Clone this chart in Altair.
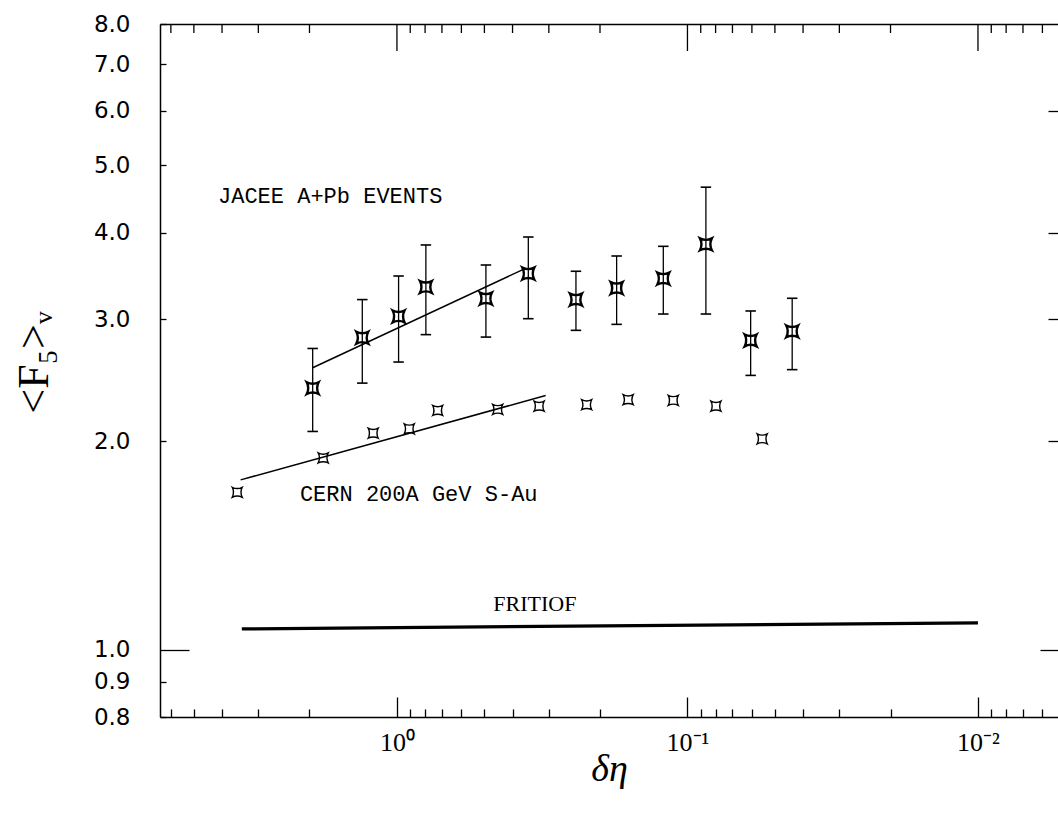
import altair as alt
import pandas as pd

# ---------------- data ----------------
jacee_x = [1.95, 1.316, 0.987, 0.795, 0.494, 0.353, 0.242, 0.1753, 0.1211, 0.0864, 0.0606, 0.0436]
jacee_y = [2.386, 2.821, 3.028, 3.339, 3.213, 3.491, 3.202, 3.327, 3.434, 3.848, 2.796, 2.881]
jacee_lo = [2.066, 2.426, 2.602, 2.850, 2.827, 3.005, 2.891, 2.949, 3.052, 3.052, 2.489, 2.537]
jacee_hi = [2.722, 3.202, 3.463, 3.839, 3.592, 3.942, 3.518, 3.701, 3.822, 4.652, 3.083, 3.216]

cern_x = [3.546, 1.794, 1.207, 0.907, 0.724, 0.450, 0.324, 0.2223, 0.160, 0.1119, 0.0798, 0.0553]
cern_y = [1.688, 1.892, 2.054, 2.084, 2.215, 2.223, 2.247, 2.258, 2.296, 2.291, 2.247, 2.016]

jacee_fit_x = [1.95, 0.3625]
jacee_fit_y = [2.553, 3.549]
cern_fit_x = [3.452, 0.3077]
cern_fit_y = [1.759, 2.328]
fritiof_x = [3.42, 0.0100]
fritiof_y = [1.072, 1.094]

mono_labels = ["JACEE A+Pb EVENTS", "CERN 200A GeV S-Au"]
mono_label_x = [4.13, 2.158]
mono_label_y = [4.51, 1.68]
serif_labels = ["FRITIOF"]
serif_label_x = [0.335]
serif_label_y = [1.166]

y_tick_values = [0.8, 0.9, 1.0, 2.0, 3.0, 4.0, 5.0, 6.0, 7.0, 8.0]
y_short_left = [0.8, 0.9, 2.0, 3.0, 4.0, 5.0, 6.0, 7.0, 8.0]
y_long = [1.0]
y_short_right = [2.0, 3.0, 4.0, 6.0]
x_major = [1.0, 0.1, 0.01]
x_minor = [6, 5, 4, 3, 2,
           0.9, 0.8, 0.7, 0.6, 0.5, 0.4, 0.3, 0.2,
           0.09, 0.08, 0.07, 0.06, 0.05, 0.04, 0.03, 0.02,
           0.009, 0.008, 0.007, 0.006]

# ---------------- layout ----------------
W, H = 898, 693
PAD = {"left": 160, "top": 24, "right": 0, "bottom": 97}

xs = alt.Scale(type="log", domain=[0.005303, 6.54], reverse=True, nice=False)
ys = alt.Scale(type="log", domain=[0.8, 8.0], nice=False)

INK = "black"


def tick_axis(orient, values, size, offset, domain=False):
    return alt.Axis(orient=orient, values=values, tickSize=size, offset=offset,
                    labels=False, domain=domain, domainColor=INK, domainWidth=1.5,
                    grid=False, ticks=True, tickColor=INK, tickWidth=1.3, title=None)


jacee_df = pd.DataFrame({"x": jacee_x, "y": jacee_y, "lo": jacee_lo, "hi": jacee_hi})
cern_df = pd.DataFrame({"x": cern_x, "y": cern_y})
fit_df = pd.DataFrame({
    "x": jacee_fit_x + cern_fit_x,
    "y": jacee_fit_y + cern_fit_y,
    "s": ["JACEE"] * len(jacee_fit_x) + ["CERN"] * len(cern_fit_x),
})
fritiof_df = pd.DataFrame({"x": fritiof_x, "y": fritiof_y})
mono_df = pd.DataFrame({"t": mono_labels, "x": mono_label_x, "y": mono_label_y})
serif_df = pd.DataFrame({"t": serif_labels, "x": serif_label_x, "y": serif_label_y})
major_df = pd.DataFrame({"x": x_major})
minor_df = pd.DataFrame({"x": x_minor})

marker = "M-1,-1Q0,-0.5,1,-1Q0.5,0,1,1Q0,0.5,-1,1Q-0.5,0,-1,-1Z"
cap = "M-1,0L1,0"

# Layer 1: CERN points + labelled axes
cern_pts = alt.Chart(cern_df).mark_point(
    shape=marker, size=100, filled=False, stroke=INK, strokeWidth=1.4, opacity=1
).encode(
    x=alt.X("x:Q", scale=xs, axis=alt.Axis(
        orient="bottom", values=x_major, ticks=False, tickSize=0, domain=False, grid=False,
        labelExpr="datum.value >= 0.5 ? '10⁰' : (datum.value >= 0.05 ? '10⁻¹' : '10⁻²')",
        labelFont="Liberation Serif", labelFontSize=26, labelColor=INK, labelPadding=12,
        title="δη", titleFont="Liberation Serif", titleFontStyle="italic",
        titleFontSize=38, titleFontWeight="normal", titleColor=INK,
        titleBaseline="alphabetic", titleY=63)),
    y=alt.Y("y:Q", scale=ys, axis=alt.Axis(
        orient="left", values=y_tick_values, format=".1f", ticks=False, tickSize=0,
        domain=False, grid=False, labelFont="DejaVu Sans", labelFontSize=23,
        labelColor=INK, labelPadding=30,
        title="<F₅>ᵥ", titleFont="Liberation Serif", titleFontSize=44,
        titleFontWeight="normal", titleColor=INK, titleX=-104, titleY=338)),
)

# Layer 2: JACEE points (bottom major ticks, left short ticks + left frame line)
jacee_pts = alt.Chart(jacee_df).mark_point(
    shape=marker, size=140, filled=False, stroke=INK, strokeWidth=2.4, opacity=1
).encode(
    x=alt.X("x:Q", scale=xs, axis=tick_axis("top", x_major, 20, -H, domain=True)),
    y=alt.Y("y:Q", scale=ys, axis=tick_axis("right", y_short_left, 6, -W, domain=True)),
)

# Layer 3: error bars (bottom minor ticks, left long tick)
err = alt.Chart(jacee_df).mark_rule(color=INK, strokeWidth=1.3).encode(
    x=alt.X("x:Q", scale=xs, axis=tick_axis("top", x_minor, 8, -H)),
    y=alt.Y("lo:Q", scale=ys, axis=tick_axis("right", y_long, 29, -W)),
    y2="hi:Q",
)

# Layers 4,5: error-bar caps (right-hand ticks, top frame line)
cap_lo = alt.Chart(jacee_df).mark_point(
    shape=cap, size=110, filled=False, stroke=INK, strokeWidth=1.6, opacity=1
).encode(
    x=alt.X("x:Q", scale=xs, axis=alt.Axis(
        orient="top", offset=0, ticks=False, labels=False, domain=True,
        domainColor=INK, domainWidth=1.5, grid=False, title=None)),
    y=alt.Y("lo:Q", scale=ys, axis=tick_axis("left", y_short_right, 10, -W)),
)
cap_hi = alt.Chart(jacee_df).mark_point(
    shape=cap, size=110, filled=False, stroke=INK, strokeWidth=1.6, opacity=1
).encode(
    x=alt.X("x:Q", scale=xs, axis=None),
    y=alt.Y("hi:Q", scale=ys, axis=tick_axis("left", y_long, 18, -W)),
)

# Top edge inward ticks
top_major = alt.Chart(major_df).mark_rule(color=INK, strokeWidth=1.3).encode(
    x=alt.X("x:Q", scale=xs, axis=None),
    y=alt.value(0), y2=alt.value(27),
)
top_minor = alt.Chart(minor_df).mark_rule(color=INK, strokeWidth=1.3).encode(
    x=alt.X("x:Q", scale=xs, axis=None),
    y=alt.value(0), y2=alt.value(9),
)

# Fit lines
fits = alt.Chart(fit_df).mark_line(color=INK, strokeWidth=1.5).encode(
    x=alt.X("x:Q", scale=xs, axis=None),
    y=alt.Y("y:Q", scale=ys, axis=None),
    detail="s:N",
)

# FRITIOF
fritiof = alt.Chart(fritiof_df).mark_line(color=INK, strokeWidth=3.2).encode(
    x=alt.X("x:Q", scale=xs, axis=None),
    y=alt.Y("y:Q", scale=ys, axis=None),
)

mono_text = alt.Chart(mono_df).mark_text(
    font="Liberation Mono", fontSize=22, align="left", baseline="middle", color=INK
).encode(
    x=alt.X("x:Q", scale=xs, axis=None),
    y=alt.Y("y:Q", scale=ys, axis=None),
    text="t:N",
)

serif_text = alt.Chart(serif_df).mark_text(
    font="Liberation Serif", fontSize=22, align="center", baseline="middle", color=INK
).encode(
    x=alt.X("x:Q", scale=xs, axis=None),
    y=alt.Y("y:Q", scale=ys, axis=None),
    text="t:N",
)

chart = alt.layer(
    cern_pts, jacee_pts, err, cap_lo, cap_hi, top_major, top_minor,
    fits, fritiof, mono_text, serif_text
).resolve_axis(
    x="independent", y="independent"
).properties(
    width=W, height=H, padding=PAD,
    autosize=alt.AutoSizeParams(type="none"),
    background="white",
).configure_view(
    strokeWidth=0
).configure_axis(grid=False)

chart.save("out.html", embed_options={"renderer": "svg", "actions": False})
